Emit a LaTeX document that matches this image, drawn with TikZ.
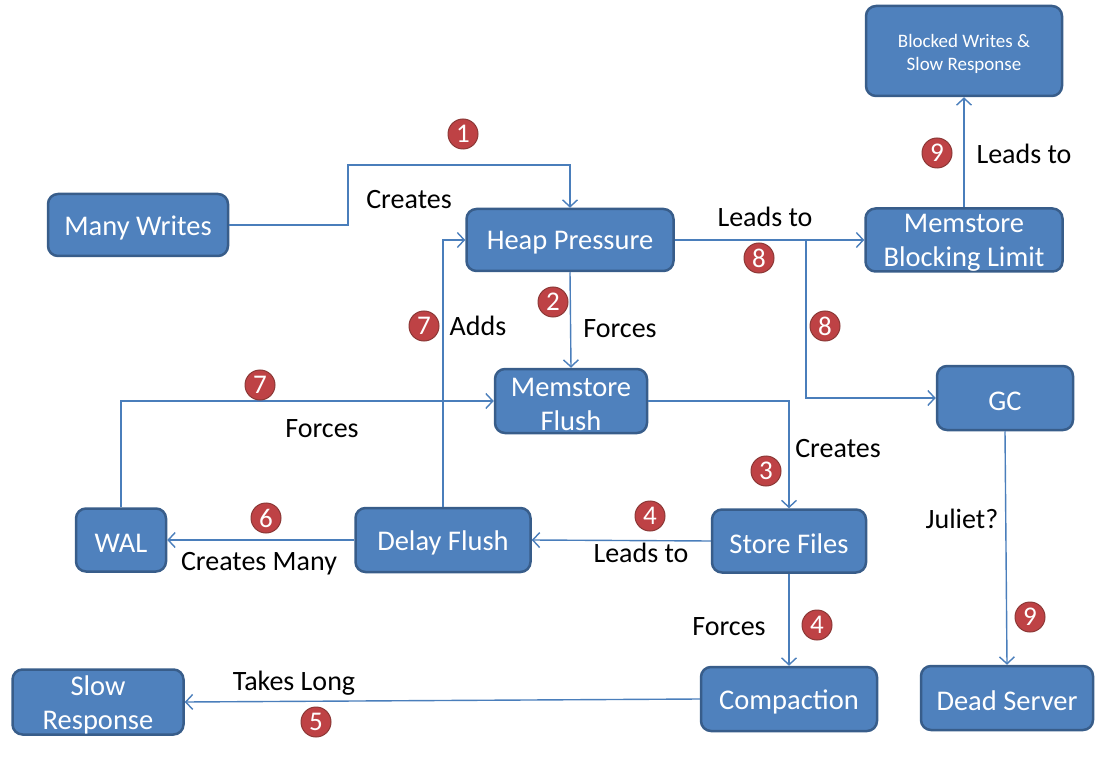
\documentclass[tikz,border=0pt]{standalone}
\usepackage{fontspec}
\setmainfont{Carlito}
\usetikzlibrary{arrows.meta}
\definecolor{boxfill}{HTML}{4F81BD}
\definecolor{boxline}{HTML}{385D8A}
\definecolor{linecol}{HTML}{4A7EBB}
\definecolor{badgefill}{HTML}{BE4245}
\definecolor{badgeline}{HTML}{8C3836}
\newcommand{\lo}[1]{\raisebox{-3pt}[\height][\depth]{#1}}
\begin{document}
\begin{tikzpicture}[x=1pt,y=-1pt,
  box/.style={draw=boxline, line width=2.5pt, fill=boxfill, rounded corners=10pt, text=white,
    font=\fontsize{28.5}{34}\selectfont, align=center, inner sep=0pt},
  conn/.style={draw=linecol, line width=1.4pt, -{Straight Barb[length=7pt,width=15pt]}},
  lbl/.style={font=\fontsize{28}{33}\selectfont, text=black, inner sep=0pt},
  badge/.style={circle, fill=badgefill, draw=badgeline, line width=1pt, minimum size=30pt,
    inner sep=0pt, text=white, font=\fontsize{27}{27}\selectfont}]
\useasboundingbox (0,0) rectangle (1119,759);

% nodes
\node[box, minimum width=180pt, minimum height=62pt] (mw) at (138,225) {\lo{Many Writes}};
\node[box, minimum width=207pt, minimum height=62pt] (hp) at (570,240) {\lo{Heap Pressure}};
\node[box, minimum width=197pt, minimum height=63pt] (mbl) at (964,240) {\lo{Memstore}\\\lo{Blocking Limit}};
\node[box, minimum width=196pt, minimum height=90pt, font=\fontsize{19}{23}\selectfont] (bw) at (964,51) {\lo{Blocked Writes \&}\\\lo{Slow Response}};
\node[box, minimum width=152pt, minimum height=64pt] (mf) at (571,401) {\lo{Memstore}\\\lo{Flush}};
\node[box, minimum width=136pt, minimum height=64pt] (gc) at (1005,398) {\lo{GC}};
\node[box, minimum width=90pt, minimum height=63pt] (wal) at (121,540) {\lo{WAL}};
\node[box, minimum width=175pt, minimum height=64pt] (df) at (443,540) {\lo{Delay Flush}};
\node[box, minimum width=154pt, minimum height=63pt] (sf) at (789,541) {\lo{Store Files}};
\node[box, minimum width=176pt, minimum height=64pt] (cp) at (789,699) {\lo{Compaction}};
\node[box, minimum width=172pt, minimum height=64pt] (ds) at (1007,698) {\lo{Dead Server}};
\node[box, minimum width=171pt, minimum height=65pt] (sr) at (98,702) {\lo{Slow}\\\lo{Response}};

\coordinate (j8) at (806,240);

% connectors
\draw[conn] (mw.east) -| (348,165) -| (hp.north);
\draw[conn] (hp.south) -- (mf.north);
\draw[conn] (mf.east) -| (sf.north);
\draw[conn] (sf.west) -- (df.east);
\draw[conn] (sf.south) -- (cp.north);
\draw[conn] (cp.west) -- (sr.east);
\draw[conn] (df.west) -- (wal.east);
\draw[conn] (wal.north) |- (mf.west);
\draw[conn] (df.north) |- (hp.west);
\draw[conn] (hp.east) -- (mbl.west);
\draw[conn] (j8) |- (gc.west);
\draw[conn] (mbl.north) -- (bw.south);
\draw[conn] (gc.south) -- (ds.north);

% labels
\node[lbl] (l1) at (409,200) {Creates};
\node[lbl] (l2) at (620,329) {Forces};
\node[lbl] (l3) at (838,449) {Creates};
\node[lbl] (l4a) at (641,553) {Leads to};
\node[lbl] (l4b) at (729,627) {Forces};
\node[lbl] (l5) at (294,683) {Takes Long};
\node[lbl] (l6) at (259,564) {Creates Many};
\node[lbl] (l7a) at (322,429) {Forces};
\node[lbl] (l7b) at (478,326) {Adds};
\node[lbl] (l8) at (765,217) {Leads to};
\node[lbl] (l9a) at (1024,154) {Leads to};
\node[lbl] (l9b) at (962,519) {Juliet?};

% badges
\node[badge] (b1) at (463,134) {1};
\node[badge] (b2) at (553,302) {2};
\node[badge] (b3) at (766,471) {3};
\node[badge] (b4a) at (650,516) {4};
\node[badge] (b4b) at (817,625) {4};
\node[badge] (b5) at (316,722) {5};
\node[badge] (b6) at (266,518) {6};
\node[badge] (b7a) at (260,385) {7};
\node[badge] (b7b) at (424,326) {7};
\node[badge] (b8a) at (759,258) {8};
\node[badge] (b8b) at (825,326) {8};
\node[badge] (b9a) at (937,153) {9};
\node[badge] (b9b) at (1030,617) {9};
\end{tikzpicture}
\end{document}
